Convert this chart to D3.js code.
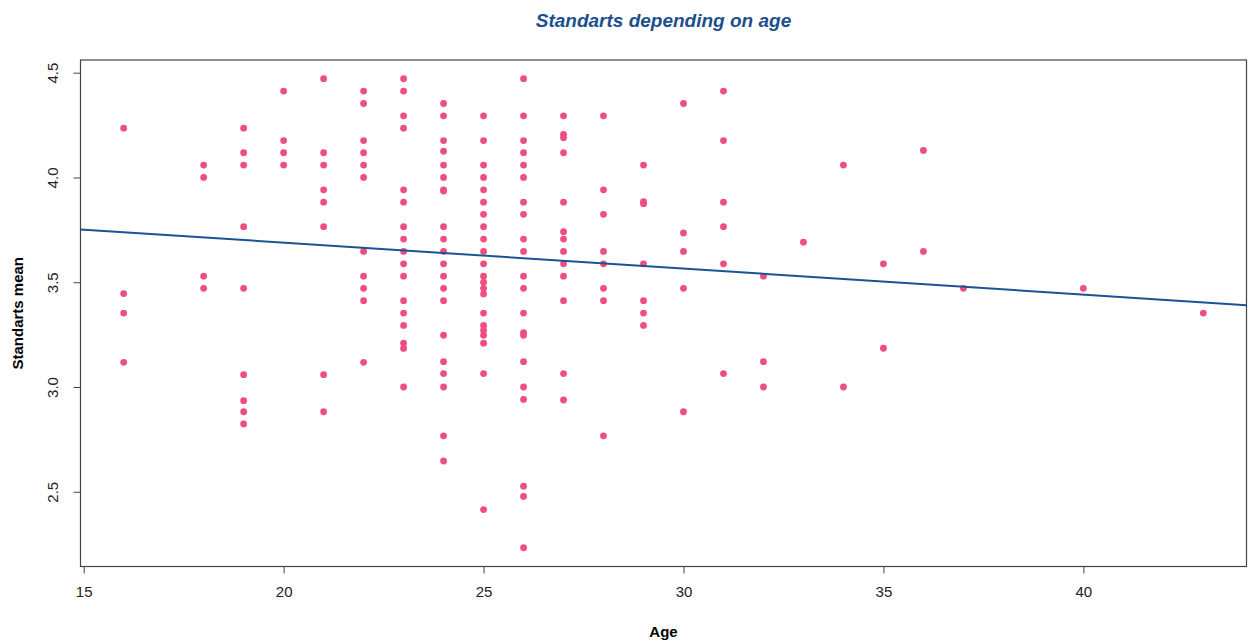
<!DOCTYPE html>
<html>
<head>
<meta charset="utf-8">
<script src="https://cdn.jsdelivr.net/npm/d3@7"></script>
<style>
    body { margin: 0; background: #fff; }
    svg { display: block; font-family: "Liberation Sans", Arial, sans-serif; }
    .axis-text { font-size: 15px; fill: #222; }
    .axis-title { font-size: 15px; font-weight: bold; fill: #000; }
</style>
</head>
<body>
<div class="graph-bg"></div>
<script>
// one entry per point
var ages = [
    16, 16, 16, 16,
    18, 18, 18, 18,
    19, 19, 19, 19, 19, 19, 19, 19, 19,
    20, 20, 20, 20,
    21, 21, 21, 21, 21, 21, 21, 21,
    22, 22, 22, 22, 22, 22, 22, 22, 22, 22, 22,
    23, 23, 23, 23, 23, 23, 23, 23, 23, 23, 23, 23, 23, 23, 23, 23, 23,
    24, 24, 24, 24, 24, 24, 24, 24, 24, 24, 24, 24, 24, 24, 24, 24, 24, 24, 24, 24, 24,
    25, 25, 25, 25, 25, 25, 25, 25, 25, 25, 25, 25, 25, 25, 25, 25, 25, 25, 25, 25, 25, 25,
    26, 26, 26, 26, 26, 26, 26, 26, 26, 26, 26, 26, 26, 26, 26, 26, 26, 26, 26, 26, 26,
    27, 27, 27, 27, 27, 27, 27, 27, 27, 27, 27, 27, 27,
    28, 28, 28, 28, 28, 28, 28, 28,
    29, 29, 29, 29, 29, 29, 29,
    30, 30, 30, 30, 30,
    31, 31, 31, 31, 31, 31,
    32, 32, 32,
    33,
    34, 34,
    35, 35,
    36, 36,
    37,
    40,
    43
];
var means = [
    4.235, 3.446, 3.353, 3.118,
    4.059, 4.0, 3.529, 3.471,
    4.235, 4.118, 4.059, 3.765, 3.471, 3.059, 2.935, 2.882, 2.824,
    4.412, 4.176, 4.118, 4.059,
    4.471, 4.118, 4.059, 3.941, 3.882, 3.765, 3.059, 2.882,
    4.412, 4.353, 4.176, 4.118, 4.059, 4.0, 3.647, 3.529, 3.471, 3.412, 3.118,
    4.471, 4.412, 4.294, 4.235, 3.941, 3.882, 3.765, 3.706, 3.647, 3.588, 3.529, 3.412, 3.353, 3.294, 3.209, 3.184, 3.0,
    4.353, 4.294, 4.176, 4.125, 4.059, 4.0, 3.941, 3.935, 3.765, 3.706, 3.647, 3.588, 3.529, 3.471, 3.412, 3.247, 3.121, 3.064, 3.0, 2.767, 2.647,
    4.294, 4.176, 4.059, 4.0, 3.941, 3.882, 3.824, 3.765, 3.706, 3.647, 3.588, 3.529, 3.5, 3.471, 3.444, 3.353, 3.294, 3.271, 3.247, 3.209, 3.064, 2.415,
    4.471, 4.294, 4.176, 4.118, 4.059, 4.0, 3.882, 3.824, 3.706, 3.647, 3.529, 3.471, 3.353, 3.259, 3.247, 3.121, 3.0, 2.941, 2.527, 2.478, 2.233,
    4.294, 4.206, 4.19, 4.118, 3.882, 3.741, 3.706, 3.647, 3.588, 3.529, 3.412, 3.064, 2.938,
    4.294, 3.941, 3.824, 3.647, 3.588, 3.471, 3.412, 2.767,
    4.059, 3.885, 3.875, 3.588, 3.412, 3.353, 3.294,
    4.353, 3.735, 3.647, 3.471, 2.882,
    4.412, 4.176, 3.882, 3.765, 3.588, 3.064,
    3.529, 3.121, 3.0,
    3.691,
    4.059, 3.0,
    3.588, 3.185,
    4.129, 3.647,
    3.471,
    3.471,
    3.353
];
var xTicks = [15, 20, 25, 30, 35, 40];
var yTicks = [2.5, 3.0, 3.5, 4.0, 4.5];
// fitted line: intercept, slope
var trend = [3.937, -0.0124];

var W = 1249, H = 641;
var boxLeft = 80.5, boxRight = 1246.5, boxTop = 60, boxBottom = 566.5;
var tickLen = 7;

document.addEventListener('DOMContentLoaded', function () {
    drawScatter();
});

function drawScatter() {
    var svg = d3.select('.graph-bg').append('svg').attr('width', W).attr('height', H);

    // R style 4% padding around the data range
    var xMin = d3.min(ages), xMax = d3.max(ages);
    var yMin = d3.min(means), yMax = d3.max(means);
    var xPad = (xMax - xMin) * 0.04, yPad = (yMax - yMin) * 0.04;
    var x = d3.scaleLinear().domain([xMin - xPad, xMax + xPad]).range([boxLeft, boxRight]);
    var y = d3.scaleLinear().domain([yMin - yPad, yMax + yPad]).range([boxBottom, boxTop]);

    // points
    svg.append('g').selectAll('circle').data(d3.range(ages.length)).enter().append('circle')
        .attr('cx', function (i) { return x(ages[i]); })
        .attr('cy', function (i) { return y(means[i]); })
        .attr('r', 3.4)
        .attr('fill', '#EE4F7E');

    // regression line across the whole box
    var x0 = x.domain()[0], x1 = x.domain()[1];
    drawLine(svg, x(x0), y(trend[0] + trend[1] * x0), x(x1), y(trend[0] + trend[1] * x1), '#1B5296', 2);

    // x axis
    var xAxis = svg.append('g').attr('transform', 'translate(0,' + boxBottom + ')')
        .call(d3.axisBottom(x).tickValues(xTicks).tickSize(tickLen).tickPadding(13).tickFormat(d3.format('d')));
    xAxis.select('.domain').remove();
    xAxis.selectAll('line').attr('stroke', '#444');
    xAxis.selectAll('text').attr('class', 'axis-text');
    xAxis.attr('font-size', null).attr('font-family', null);

    // y axis, labels parallel to the axis
    var yAxis = svg.append('g').attr('transform', 'translate(' + boxLeft + ',0)')
        .call(d3.axisLeft(y).tickValues(yTicks).tickSize(tickLen).tickFormat(d3.format('.1f')));
    yAxis.select('.domain').remove();
    yAxis.selectAll('line').attr('stroke', '#444');
    yAxis.attr('font-size', null).attr('font-family', null);
    yAxis.selectAll('text').attr('class', 'axis-text')
        .attr('x', null).attr('dy', null)
        .attr('text-anchor', 'middle').attr('dominant-baseline', 'central')
        .attr('transform', 'translate(-28,0) rotate(-90)');

    // box
    svg.append('rect').attr('x', boxLeft).attr('y', boxTop)
        .attr('width', boxRight - boxLeft).attr('height', boxBottom - boxTop)
        .attr('fill', 'none').attr('stroke', '#444').attr('stroke-width', 1.2);

    writeText(svg, (boxLeft + boxRight) / 2, 27, 'Standarts depending on age')
        .attr('font-size', '19px').attr('font-weight', 'bold').attr('font-style', 'italic').attr('fill', '#1B4F8E');
    writeText(svg, (boxLeft + boxRight) / 2, 637, 'Age').attr('class', 'axis-title');
    writeText(svg, 0, 0, 'Standarts mean').attr('class', 'axis-title')
        .attr('dominant-baseline', 'central')
        .attr('transform', 'translate(17,' + (boxTop + boxBottom) / 2 + ') rotate(-90)');
}

function writeText(section, x, y, text) {
    return section.append('text').attr('x', x).attr('y', y).text(text).attr('text-anchor', 'middle');
}

function drawLine(section, x1, y1, x2, y2, stroke, strokeWidth) {
    return section.append('line').attr('x1', x1).attr('y1', y1).attr('x2', x2).attr('y2', y2)
        .attr('stroke', stroke).attr('stroke-width', strokeWidth);
}
</script>
</body>
</html>
